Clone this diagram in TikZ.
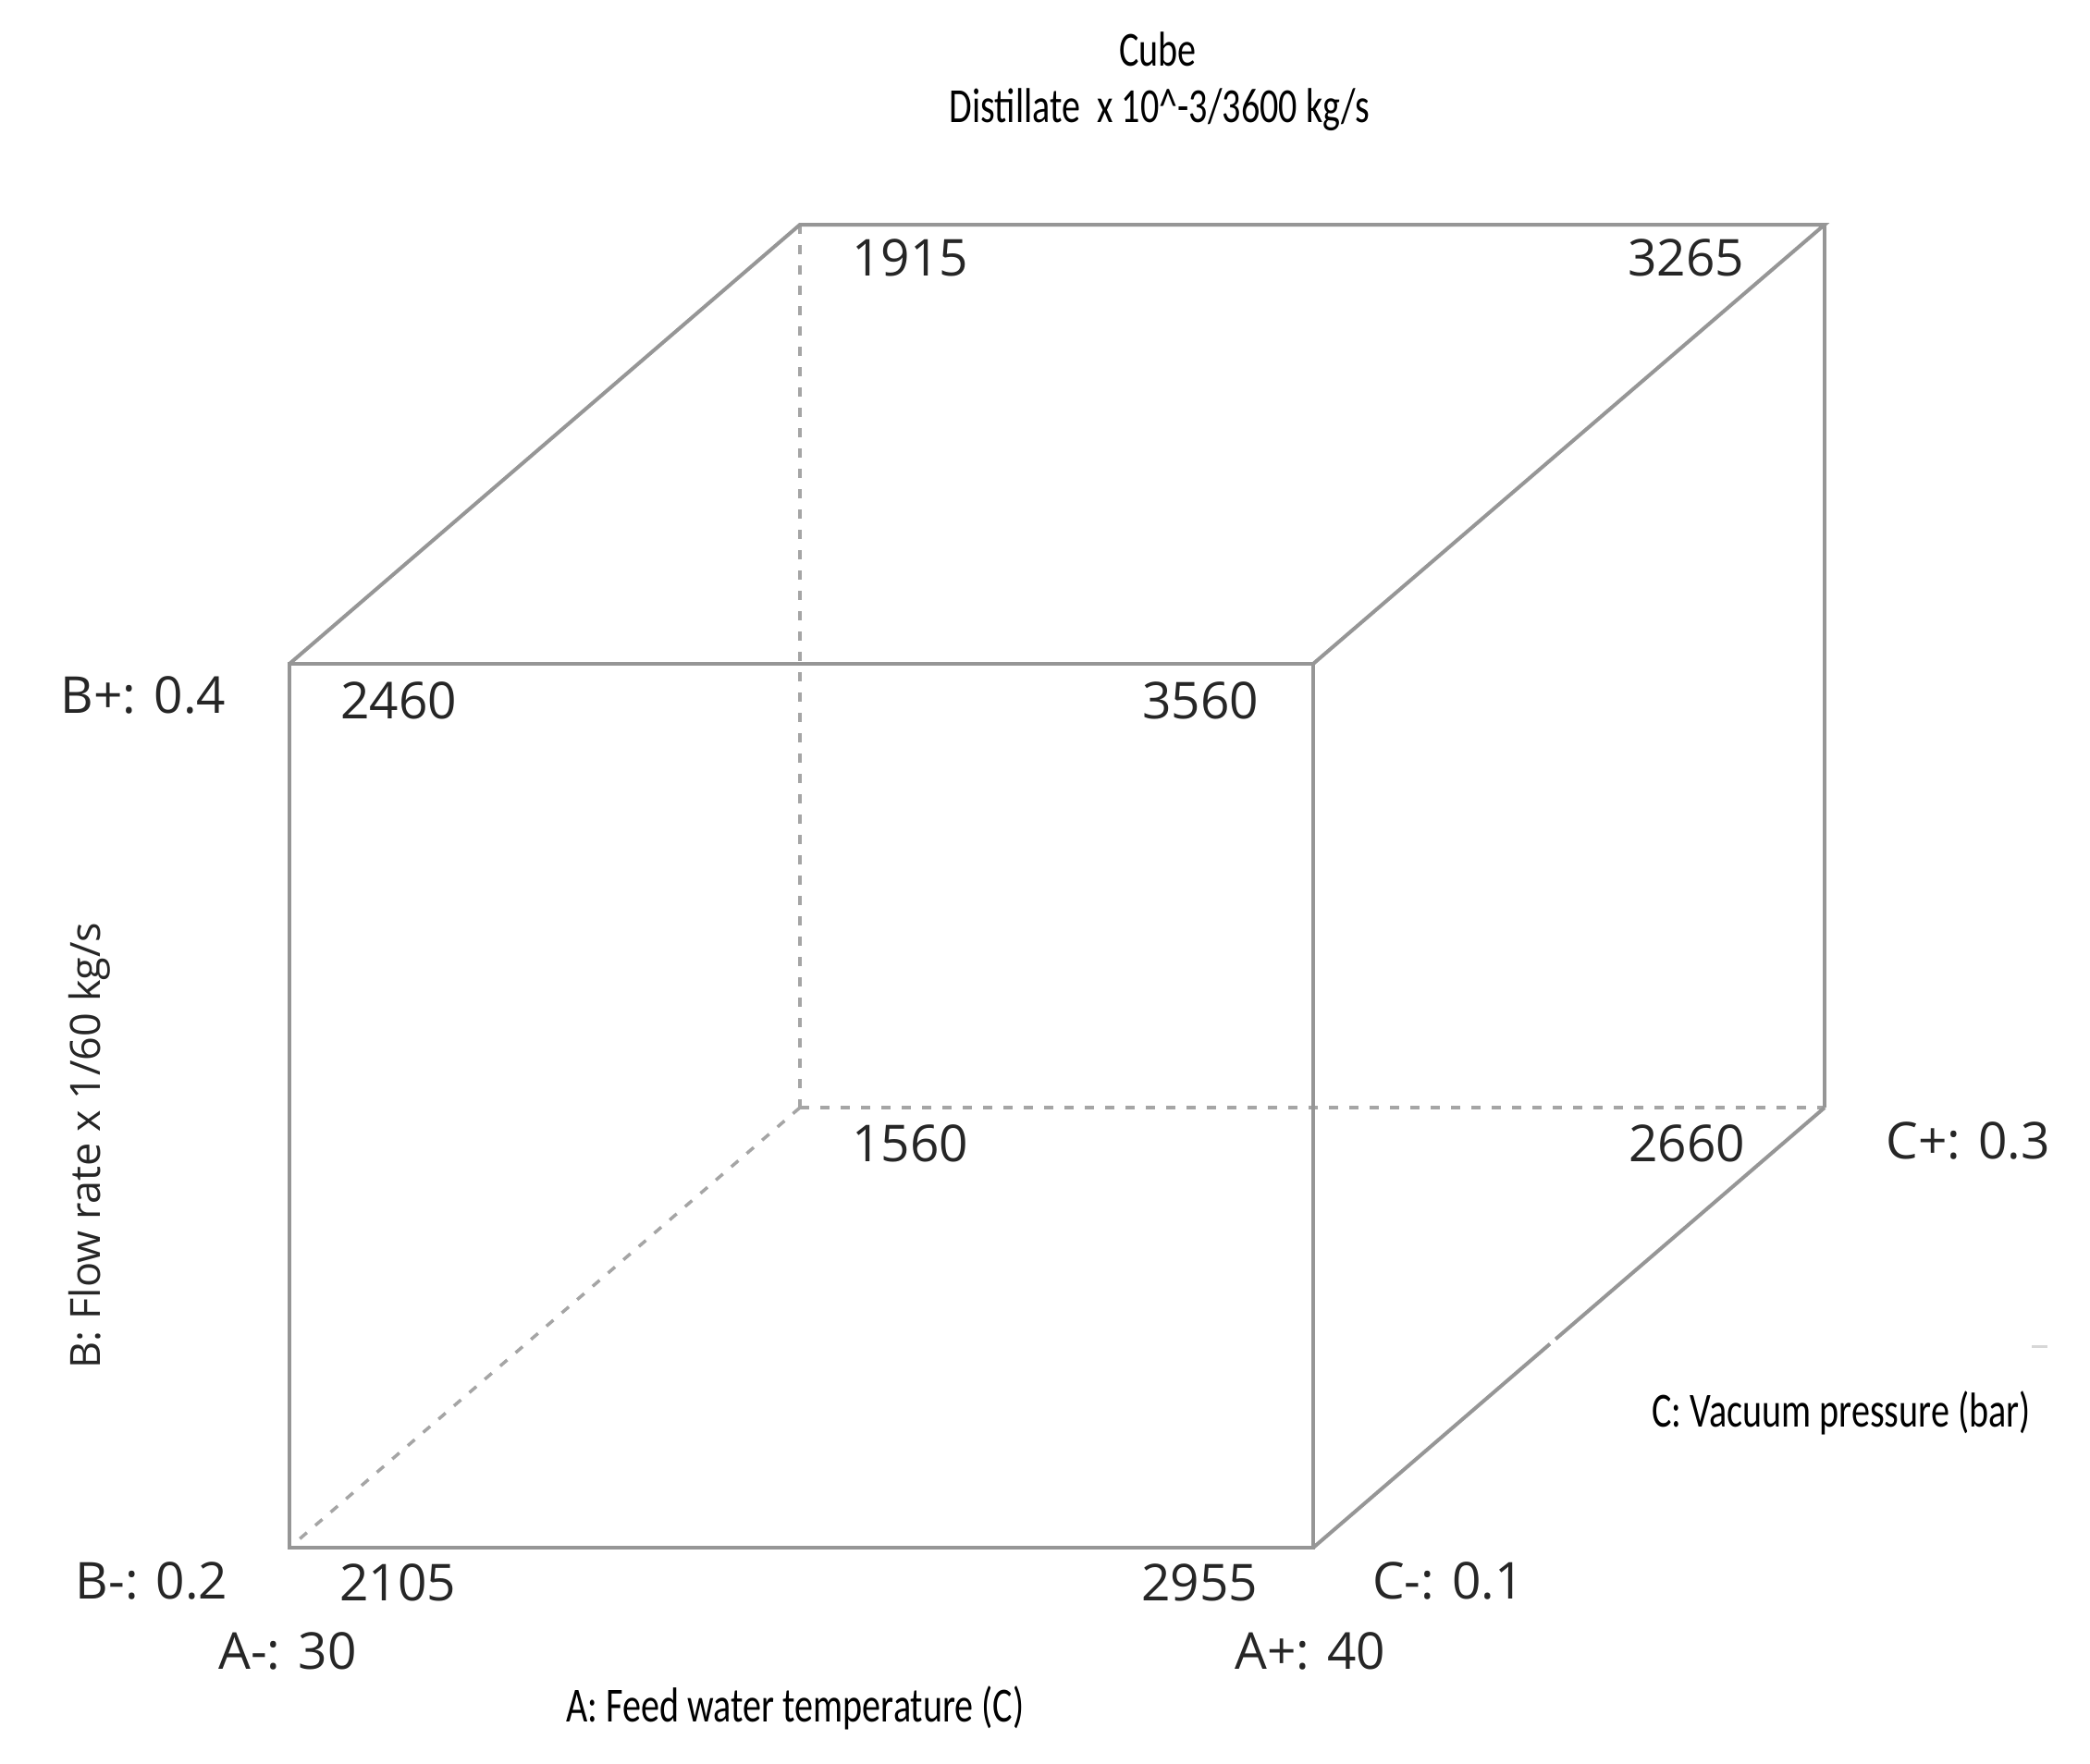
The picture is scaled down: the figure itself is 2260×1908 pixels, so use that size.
\documentclass[tikz,border=0pt]{standalone}
\usepackage{fontspec}
\usetikzlibrary{calc}
\setmainfont{Open Sans}
\newfontfamily\condfont{Carlito}
\definecolor{edgegray}{RGB}{150,150,150}
\definecolor{dashgray}{RGB}{165,165,165}
\definecolor{speckgray}{RGB}{215,215,215}
\tikzset{
  solidedge/.style={draw=edgegray, line width=4pt, line join=miter},
  hiddenedge/.style={draw=dashgray, line width=3.5pt, dash pattern=on 10pt off 12pt},
  numlabel/.style={font=\fontsize{55}{66}\selectfont, anchor=base, inner sep=0pt, text=black!85},
  axislabel/.style={font=\fontsize{45}{54}\selectfont, anchor=base, inner sep=0pt, text=black!85},
  condlabel/.style={font=\condfont\fontsize{53}{64}\selectfont, anchor=base, inner sep=0pt, text=black}
}
\newcommand{\cond}[1]{\scalebox{0.757}[1]{#1}}
\begin{document}
\begin{tikzpicture}[x=1pt,y=-1pt]
\useasboundingbox[fill=white] (0,0) rectangle (2260,1908);
% cube corners
\coordinate (F1) at (313,718);
\coordinate (F2) at (1420,718);
\coordinate (F3) at (1420,1674);
\coordinate (F4) at (313,1674);
\coordinate (B1) at (865,243);
\coordinate (B2) at (1973,243);
\coordinate (B3) at (1973,1198);
\coordinate (B4) at (865,1198);
% hidden edges
\draw[hiddenedge] (B1) -- (B4);
\draw[hiddenedge] (B4) -- (B3);
\draw[hiddenedge] (B4) -- (F4);
% visible edges
\draw[solidedge] (F1) -- (F2) -- (F3) -- (F4) -- cycle;
\draw[solidedge] (F1) -- (B1) -- (B2) -- (F2);
\draw[solidedge] (B2) -- (B3);
\draw[solidedge] (F3) -- ($(F3)!0.463!(B3)$);
\draw[solidedge] ($(F3)!0.474!(B3)$) -- (B3);
% small speck
\coordinate (S1) at (2197,1456);
\coordinate (S2) at (2214,1456);
\draw[draw=speckgray, line width=3pt] (S1) -- (S2);
% title
\node[condlabel] (title1) at (1252,72) {\cond{Cube}};
\node[condlabel] (title2) at (1254,133) {\cond{Distillate\ \ x 10\^{}-3/3600 kg/s}};
% corner values
\node[numlabel] (v1915) at (984,298) {1915};
\node[numlabel] (v3265) at (1823,298) {3265};
\node[numlabel] (v2460) at (431,777) {2460};
\node[numlabel] (v3560) at (1298,777) {3560};
\node[numlabel] (v1560) at (984,1256) {1560};
\node[numlabel] (v2660) at (1824,1256) {2660};
\node[numlabel] (v2105) at (430,1731) {2105};
\node[numlabel] (v2955) at (1297,1731) {2955};
% level labels
\node[numlabel] (bplus) at (155,771) {B+: 0.4};
\node[numlabel] (bminus) at (164,1729) {B-: 0.2};
\node[numlabel] (cplus) at (2128,1253) {C+: 0.3};
\node[numlabel] (cminus) at (1566,1729) {C-: 0.1};
\node[numlabel] (aminus) at (311,1805) {A-: 30};
\node[numlabel] (aplus) at (1417,1805) {A+: 40};
% axis labels
\node[condlabel] (alabel) at (860,1862) {\cond{A: Feed water temperature (C)}};
\node[condlabel] (clabel) at (1991,1543) {\cond{C: Vacuum pressure (bar)}};
\node[axislabel, rotate=90] (blabel) at (108,1239) {B: Flow rate x 1/60 kg/s};
\end{tikzpicture}
\end{document}
